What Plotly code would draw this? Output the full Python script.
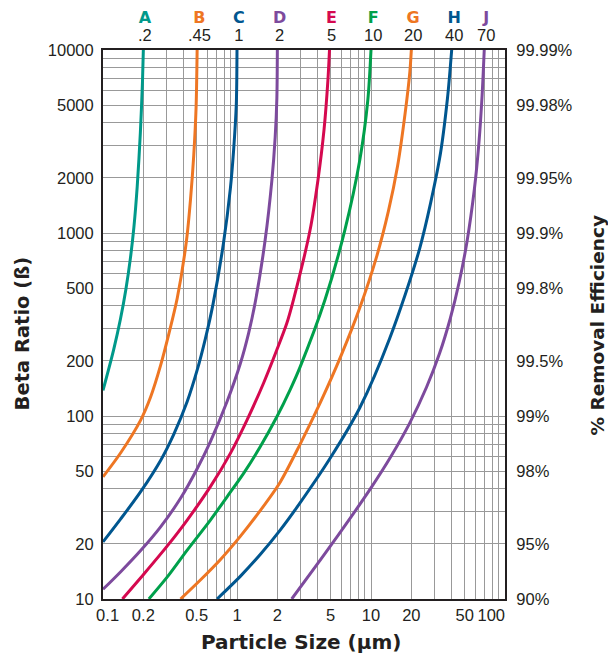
import numpy as np
import plotly.graph_objects as go

# ---- data ----
letters = ["A", "B", "C", "D", "E", "F", "G", "H", "J"]
ratings = [".2", ".45", "1", "2", "5", "10", "20", "40", "70"]
colors = ["#00998A", "#EE7623", "#00568F", "#7D4A9D", "#D5094F",
          "#00A04B", "#EE7623", "#00568F", "#7D4A9D"]

x_A = [0.100, 0.120, 0.135, 0.148, 0.160, 0.170, 0.180, 0.190, 0.197, 0.200]
b_A = [138, 230, 339, 490, 724, 1073, 1793, 3527, 6640, 10000]

x_B = [0.100, 0.1356, 0.191, 0.2266, 0.269, 0.310, 0.358, 0.420, 0.450, 0.4756, 0.495, 0.504]
b_B = [46.5, 63, 95, 127, 189, 281, 440, 913, 1530, 2660, 4850, 10000]

x_C = [0.100, 0.1356, 0.191, 0.269, 0.338, 0.425, 0.504, 0.581, 0.663, 0.795, 0.892, 0.943, 0.988, 1.000]
b_C = [20.5, 27.4, 38.6, 57.2, 79.7, 120, 178, 265, 410, 894, 1748, 2818, 5050, 10000]

x_D = [0.100, 0.1356, 0.191, 0.269, 0.379, 0.504, 0.633, 0.843, 1.058, 1.220, 1.368, 1.623, 1.820, 1.927, 1.984, 2.000]
b_D = [11.3, 14.1, 18.4, 24.8, 35.5, 51.5, 72.5, 120, 193, 283, 418, 918, 1934, 3327, 5470, 10000]

x_E = [0.1396, 0.202, 0.302, 0.425, 0.633, 0.892, 1.187, 1.577, 1.984, 2.353, 2.635, 3.51, 4.02, 4.46, 4.77, 4.90]
b_E = [10, 13.7, 19.5, 27, 41.1, 62.5, 95, 151, 230, 321, 430, 1038, 1950, 3656, 6850, 10000]

x_F = [0.220, 0.302, 0.425, 0.633, 0.843, 1.12, 1.49, 1.984, 2.49, 2.955, 4.53, 6.38, 8.25, 9.47, 10.0]
b_F = [10, 13.2, 18.5, 27, 36.2, 48.6, 67.9, 99, 139, 185, 430, 1038, 2506, 5330, 10000]

x_G = [0.379, 0.533, 0.75, 1.058, 1.49, 2.1, 2.955, 4.2, 6.0, 8.25, 11.0, 13.5, 15.8, 18.0, 19.5, 20.0]
b_G = [10, 12.7, 16.4, 22.0, 30.4, 43.5, 70, 119, 215, 390, 740, 1320, 2330, 4550, 7600, 10000]

x_H = [0.71, 1.058, 1.49, 2.1, 2.79, 4.94, 8.25, 13.8, 23.1, 32.5, 37.2, 40.0]
b_H = [10, 13.3, 17.5, 23.8, 31.6, 58.6, 111, 266, 825, 2550, 5430, 10000]

x_J = [2.56, 4.94, 9.8, 14.0, 19.4, 26.0, 32.5, 39.0, 45.7, 52.0, 59.1, 64.0, 67.5, 70.0]
b_J = [10, 19.3, 39.6, 59.7, 91.2, 144, 220, 340, 547, 894, 1739, 3161, 5675, 10000]

curves_x = [x_A, x_B, x_C, x_D, x_E, x_F, x_G, x_H, x_J]
curves_b = [b_A, b_B, b_C, b_D, b_E, b_F, b_G, b_H, b_J]

NB = "\u00a0"
x_tick_vals = [0.1, 0.2, 0.5, 1, 2, 5, 10, 20, 50, 100]
x_tick_text = [NB * 2 + "0.1", "0.2", "0.5", "1", "2", "5", "10", "20", "50", "100" + NB * 6]
y_tick_vals = [10, 20, 50, 100, 200, 500, 1000, 2000, 5000, 10000]
y_tick_text = ["10", "20", "50", "100", "200", "500", "1000", "2000", "5000", "10000"]
eff_text = ["90%", "95%", "98%", "99%", "99.5%", "99.8%", "99.9%", "99.95%", "99.98%", "99.99%"]


def log_grid(lo_exp, hi_exp):
    vals = []
    for e in range(lo_exp, hi_exp):
        for m in range(1, 10):
            vals.append(m * 10.0 ** e)
    vals.append(10.0 ** hi_exp)
    return vals


def labels_for(grid, tvals, ttext):
    out = []
    for v in grid:
        lab = ""
        for t, s in zip(tvals, ttext):
            if abs(v - t) < 1e-9 * max(1, t):
                lab = s
        out.append(lab)
    return out


xg = log_grid(-1, 2)
yg = log_grid(1, 4)
x_text = labels_for(xg, x_tick_vals, x_tick_text)
y_text = labels_for(yg, y_tick_vals, y_tick_text)
y2_text = labels_for(yg, y_tick_vals, eff_text)

FONT = "Liberation Sans, Arial, sans-serif"
BOLD = "DejaVu Sans, sans-serif"
INK = "#231f20"
GRID = "#999999"

fig = go.Figure()
for xs, bs, c in zip(curves_x, curves_b, colors):
    fig.add_trace(go.Scatter(x=xs, y=bs, mode="lines",
                             line=dict(color=c, width=3, shape="spline", smoothing=0.8),
                             showlegend=False, hoverinfo="skip"))
fig.add_trace(go.Scatter(x=[1], y=[100], yaxis="y2", mode="markers",
                         marker=dict(opacity=0), showlegend=False, hoverinfo="skip"))

common = dict(showline=True, linecolor=INK, linewidth=2, ticks="", zeroline=False,
              automargin=False, tickfont=dict(size=16.5, color=INK, family=FONT))

fig.update_layout(
    width=608, height=654,
    margin=dict(l=103, r=103, t=50, b=55, autoexpand=False),
    paper_bgcolor="white", plot_bgcolor="white",
    font=dict(family=FONT, size=16, color=INK),
    xaxis=dict(type="log", range=[-1.0, 2.0], tickmode="array", tickvals=xg, ticktext=x_text,
               showgrid=True, gridcolor=GRID, gridwidth=1, mirror=True, **common),
    yaxis=dict(type="log", range=[1, 4], tickmode="array", tickvals=yg, ticktext=y_text,
               showgrid=True, gridcolor=GRID, gridwidth=1, mirror=True,
               ticklabelstandoff=4, **common),
    yaxis2=dict(type="log", range=[1, 4], overlaying="y", side="right",
                tickmode="array", tickvals=yg, ticktext=y2_text, showgrid=False,
                ticklabelstandoff=6, **common),
)

# axis titles
fig.add_annotation(x=0.5, y=0, xref="paper", yref="paper", yanchor="middle", yshift=-43,
                   xshift=-3,
                   text="<b>Particle Size (μm)</b>", showarrow=False,
                   font=dict(size=20, color=INK, family=BOLD))
fig.add_annotation(x=0, y=0.46, xref="paper", yref="paper", xanchor="center", yanchor="middle",
                   xshift=-81, yshift=13,
                   text="<b>Beta Ratio (ß)</b>", textangle=-90, showarrow=False,
                   font=dict(size=19.5, color=INK, family=BOLD))
fig.add_annotation(x=1, y=0.46, xref="paper", yref="paper", xanchor="center", yanchor="middle",
                   xshift=92, yshift=21,
                   text="<b>% Removal Efficiency</b>", textangle=-90, showarrow=False,
                   font=dict(size=18.5, color=INK, family=BOLD))

for letter, rating, xs, c in zip(letters, ratings, curves_x, colors):
    xt = np.log10(xs[-1])
    txt = ("<span style='font-size:16px;color:%s;font-family:DejaVu Sans'><b>%s</b></span><br>"
           "<span style='font-size:16.5px'>%s</span>") % (c, letter, rating)
    fig.add_annotation(x=xt, y=1.0, xref="x", yref="paper", yanchor="middle", yshift=24.5,
                       xshift=2, text=txt, showarrow=False,
                       font=dict(size=13.5, color=INK, family=FONT))

fig.write_html("out.html",
               config={"displayModeBar": False, "staticPlot": True},
               post_script="document.body.style.margin='0';document.body.style.overflow='hidden';")
